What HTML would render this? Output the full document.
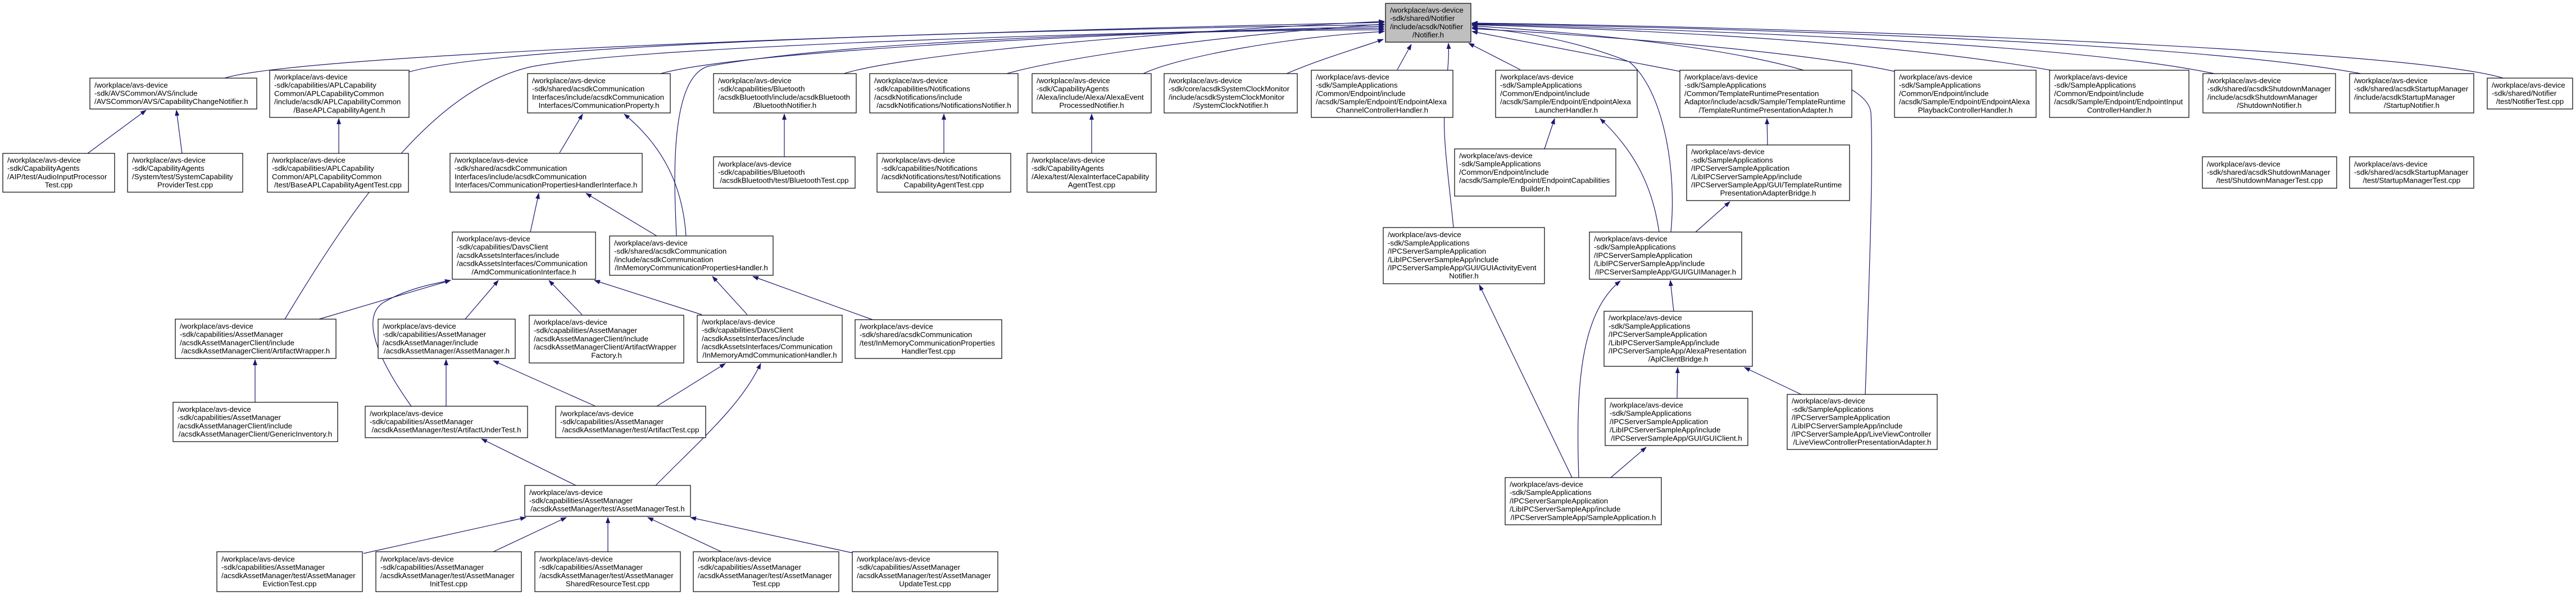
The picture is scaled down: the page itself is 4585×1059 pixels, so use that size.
<!DOCTYPE html>
<html><head><meta charset="utf-8">
<style>
html,body{margin:0;padding:0;background:#fff;}
svg{display:block;}
text{font-family:"Liberation Sans",Arial,sans-serif;font-size:13.3px;fill:#000;}
rect{fill:#fff;stroke:#000;stroke-width:1.2;}
path.e{fill:none;stroke:#191970;stroke-width:1.2;marker-end:url(#a);}
.c{text-anchor:middle;}
</style></head><body>
<svg width="4585" height="1059" viewBox="0 0 4585 1059" xmlns="http://www.w3.org/2000/svg">
<defs><marker id="a" markerWidth="11" markerHeight="8" refX="10" refY="4" orient="auto" markerUnits="userSpaceOnUse"><path d="M0,0 L11,4 L0,8z" fill="#191970"/></marker></defs>

<!-- edges to root -->
<path class="e" d="M400,139 C520,100 1500,60 2464,40"/>
<path class="e" d="M728,128 C900,80 1700,55 2464,44"/>
<path class="e" d="M1176,131 C1300,95 1900,60 2464,47"/>
<path class="e" d="M507,568 C650,330 780,160 940,120 C1100,85 1900,58 2464,50"/>
<path class="e" d="M1204,420 C1200,330 1190,140 1260,118 C1500,75 2000,55 2464,53"/>
<path class="e" d="M1502,131 C1600,100 2000,60 2464,38"/>
<path class="e" d="M1792,131 C1900,100 2200,60 2464,43"/>
<path class="e" d="M2035,131 C2100,100 2300,65 2464,56"/>
<path class="e" d="M2290,131 C2350,105 2420,85 2462,70"/>
<path class="e" d="M2487,124 L2512,79"/>
<path class="e" d="M2706,124 L2614,77"/>
<path class="e" d="M2587,405 C2580,330 2568,250 2571,200 C2574,140 2580,110 2578,77"/>
<path class="e" d="M2974,413 C2985,300 2960,160 2900,110 C2800,70 2700,55 2620,49"/>
<path class="e" d="M2990,127 L2620,56"/>
<path class="e" d="M3372,127 C3200,90 2800,60 2620,51"/>
<path class="e" d="M3320,702 C3325,550 3335,300 3330,200 C3320,120 3000,70 2620,46"/>
<path class="e" d="M3650,125 C3400,80 3000,55 2620,44"/>
<path class="e" d="M3941,131 C3700,80 3100,55 2620,43"/>
<path class="e" d="M4202,131 C3900,75 3100,50 2620,42"/>
<path class="e" d="M4455,139 C4300,90 3300,50 2620,41"/>

<!-- other edges -->
<path class="e" d="M156,273 L260,196"/>
<path class="e" d="M324,273 L314,196"/>
<path class="e" d="M603,273 L603,211"/>
<path class="e" d="M996,272 L1037,203"/>
<path class="e" d="M1221,420 C1215,330 1180,260 1111,203"/>
<path class="e" d="M1396,279 L1396,203"/>
<path class="e" d="M1680,273 L1680,203"/>
<path class="e" d="M1943,273 L1943,203"/>
<path class="e" d="M2749,265 L2767,211"/>
<path class="e" d="M2953,413 C2940,320 2900,260 2848,211"/>
<path class="e" d="M3146,258 L3145,211"/>
<path class="e" d="M3018,413 L3079,359"/>
<path class="e" d="M944,413 L959,344"/>
<path class="e" d="M1169,420 L1043,344"/>
<path class="e" d="M568,568 L802,499"/>
<path class="e" d="M732,723 C680,650 640,570 680,540 C720,515 770,505 802,499"/>
<path class="e" d="M828,568 L887,499"/>
<path class="e" d="M1036,560 L977,499"/>
<path class="e" d="M1249,560 L1058,499"/>
<path class="e" d="M1330,560 L1268,492"/>
<path class="e" d="M1553,569 L1340,492"/>
<path class="e" d="M454,716 L454,640"/>
<path class="e" d="M794,723 L794,640"/>
<path class="e" d="M1060,723 L878,642"/>
<path class="e" d="M1169,723 L1291,647"/>
<path class="e" d="M1025,864 L857,781"/>
<path class="e" d="M1167,864 C1250,780 1320,720 1354,647"/>
<path class="e" d="M647,985 L936,921"/>
<path class="e" d="M878,982 L1008,921"/>
<path class="e" d="M1082,982 L1082,921"/>
<path class="e" d="M1284,982 L1153,921"/>
<path class="e" d="M1517,984 L1229,921"/>
<path class="e" d="M2798,850 L2633,507"/>
<path class="e" d="M2810,850 C2805,700 2810,560 2884,500"/>
<path class="e" d="M2867,850 L2930,796"/>
<path class="e" d="M2979,554 L2973,499"/>
<path class="e" d="M2985,708 L2986,654"/>
<path class="e" d="M3206,702 L3105,654"/>

<!-- nodes -->
<rect x="2466" y="6" width="152" height="69" style="fill:#bfbfbf"/>
<text><tspan x="2474" y="22.4">/workplace/avs-device</tspan><tspan x="2474" y="37.1">-sdk/shared/Notifier</tspan><tspan x="2474" y="51.8">/include/acsdk/Notifier</tspan><tspan class="c" x="2542" y="66.5">/Notifier.h</tspan></text>

<rect x="160" y="139" width="297" height="55"/>
<text><tspan x="168" y="155.8">/workplace/avs-device</tspan><tspan x="168" y="170.5">-sdk/AVSCommon/AVS/include</tspan><tspan x="168" y="185.2">/AVSCommon/AVS/CapabilityChangeNotifier.h</tspan></text>

<rect x="480" y="125" width="248" height="84"/>
<text><tspan x="488" y="141.5">/workplace/avs-device</tspan><tspan x="488" y="156.2">-sdk/capabilities/APLCapability</tspan><tspan x="488" y="170.9">Common/APLCapabilityCommon</tspan><tspan x="488" y="185.6">/include/acsdk/APLCapabilityCommon</tspan><tspan class="c" x="604" y="200.3">/BaseAPLCapabilityAgent.h</tspan></text>

<rect x="939" y="131" width="254" height="70"/>
<text><tspan x="947" y="147.9">/workplace/avs-device</tspan><tspan x="947" y="162.6">-sdk/shared/acsdkCommunication</tspan><tspan x="947" y="177.3">Interfaces/include/acsdkCommunication</tspan><tspan class="c" x="1066" y="192">Interfaces/CommunicationProperty.h</tspan></text>

<rect x="1270" y="131" width="254" height="70"/>
<text><tspan x="1278" y="147.9">/workplace/avs-device</tspan><tspan x="1278" y="162.6">-sdk/capabilities/Bluetooth</tspan><tspan x="1278" y="177.3">/acsdkBluetooth/include/acsdkBluetooth</tspan><tspan class="c" x="1397" y="192">/BluetoothNotifier.h</tspan></text>

<rect x="1548" y="131" width="264" height="70"/>
<text><tspan x="1556" y="147.9">/workplace/avs-device</tspan><tspan x="1556" y="162.6">-sdk/capabilities/Notifications</tspan><tspan x="1556" y="177.3">/acsdkNotifications/include</tspan><tspan class="c" x="1680" y="192">/acsdkNotifications/NotificationsNotifier.h</tspan></text>

<rect x="1837" y="131" width="212" height="70"/>
<text><tspan x="1845" y="147.9">/workplace/avs-device</tspan><tspan x="1845" y="162.6">-sdk/CapabilityAgents</tspan><tspan x="1845" y="177.3">/Alexa/include/Alexa/AlexaEvent</tspan><tspan class="c" x="1943" y="192">ProcessedNotifier.h</tspan></text>

<rect x="2072" y="131" width="237" height="70"/>
<text><tspan x="2080" y="147.9">/workplace/avs-device</tspan><tspan x="2080" y="162.6">-sdk/core/acsdkSystemClockMonitor</tspan><tspan x="2080" y="177.3">/include/acsdkSystemClockMonitor</tspan><tspan class="c" x="2190.5" y="192">/SystemClockNotifier.h</tspan></text>

<rect x="2334" y="125" width="252" height="84"/>
<text><tspan x="2342" y="141.5">/workplace/avs-device</tspan><tspan x="2342" y="156.2">-sdk/SampleApplications</tspan><tspan x="2342" y="170.9">/Common/Endpoint/include</tspan><tspan x="2342" y="185.6">/acsdk/Sample/Endpoint/EndpointAlexa</tspan><tspan class="c" x="2460" y="200.3">ChannelControllerHandler.h</tspan></text>

<rect x="2662" y="125" width="252" height="84"/>
<text><tspan x="2670" y="141.5">/workplace/avs-device</tspan><tspan x="2670" y="156.2">-sdk/SampleApplications</tspan><tspan x="2670" y="170.9">/Common/Endpoint/include</tspan><tspan x="2670" y="185.6">/acsdk/Sample/Endpoint/EndpointAlexa</tspan><tspan class="c" x="2788" y="200.3">LauncherHandler.h</tspan></text>

<rect x="2990" y="125" width="306" height="84"/>
<text><tspan x="2998" y="141.5">/workplace/avs-device</tspan><tspan x="2998" y="156.2">-sdk/SampleApplications</tspan><tspan x="2998" y="170.9">/Common/TemplateRuntimePresentation</tspan><tspan x="2998" y="185.6">Adaptor/include/acsdk/Sample/TemplateRuntime</tspan><tspan class="c" x="3143" y="200.3">/TemplateRuntimePresentationAdapter.h</tspan></text>

<rect x="3372" y="125" width="252" height="84"/>
<text><tspan x="3380" y="141.5">/workplace/avs-device</tspan><tspan x="3380" y="156.2">-sdk/SampleApplications</tspan><tspan x="3380" y="170.9">/Common/Endpoint/include</tspan><tspan x="3380" y="185.6">/acsdk/Sample/Endpoint/EndpointAlexa</tspan><tspan class="c" x="3498" y="200.3">PlaybackControllerHandler.h</tspan></text>

<rect x="3648" y="125" width="248" height="84"/>
<text><tspan x="3656" y="141.5">/workplace/avs-device</tspan><tspan x="3656" y="156.2">-sdk/SampleApplications</tspan><tspan x="3656" y="170.9">/Common/Endpoint/include</tspan><tspan x="3656" y="185.6">/acsdk/Sample/Endpoint/EndpointInput</tspan><tspan class="c" x="3772" y="200.3">ControllerHandler.h</tspan></text>

<rect x="3921" y="131" width="236" height="70"/>
<text><tspan x="3929" y="147.9">/workplace/avs-device</tspan><tspan x="3929" y="162.6">-sdk/shared/acsdkShutdownManager</tspan><tspan x="3929" y="177.3">/include/acsdkShutdownManager</tspan><tspan class="c" x="4039" y="192">/ShutdownNotifier.h</tspan></text>

<rect x="4182" y="131" width="221" height="70"/>
<text><tspan x="4190" y="147.9">/workplace/avs-device</tspan><tspan x="4190" y="162.6">-sdk/shared/acsdkStartupManager</tspan><tspan x="4190" y="177.3">/include/acsdkStartupManager</tspan><tspan class="c" x="4292.5" y="192">/StartupNotifier.h</tspan></text>

<rect x="4427" y="139" width="152" height="55"/>
<text><tspan x="4435" y="155.8">/workplace/avs-device</tspan><tspan x="4435" y="170.5">-sdk/shared/Notifier</tspan><tspan class="c" x="4503" y="185.2">/test/NotifierTest.cpp</tspan></text>

<!-- row B -->
<rect x="5" y="273" width="199" height="69"/>
<text><tspan x="13" y="289.4">/workplace/avs-device</tspan><tspan x="13" y="304.1">-sdk/CapabilityAgents</tspan><tspan x="13" y="318.8">/AIP/test/AudioInputProcessor</tspan><tspan class="c" x="104.5" y="333.5">Test.cpp</tspan></text>

<rect x="227" y="273" width="205" height="69"/>
<text><tspan x="235" y="289.4">/workplace/avs-device</tspan><tspan x="235" y="304.1">-sdk/CapabilityAgents</tspan><tspan x="235" y="318.8">/System/test/SystemCapability</tspan><tspan class="c" x="329.5" y="333.5">ProviderTest.cpp</tspan></text>

<rect x="476" y="273" width="251" height="69"/>
<text><tspan x="484" y="289.4">/workplace/avs-device</tspan><tspan x="484" y="304.1">-sdk/capabilities/APLCapability</tspan><tspan x="484" y="318.8">Common/APLCapabilityCommon</tspan><tspan class="c" x="601.5" y="333.5">/test/BaseAPLCapabilityAgentTest.cpp</tspan></text>

<rect x="801" y="273" width="342" height="69"/>
<text><tspan x="809" y="289.4">/workplace/avs-device</tspan><tspan x="809" y="304.1">-sdk/shared/acsdkCommunication</tspan><tspan x="809" y="318.8">Interfaces/include/acsdkCommunication</tspan><tspan class="c" x="972" y="333.5">Interfaces/CommunicationPropertiesHandlerInterface.h</tspan></text>

<rect x="1270" y="279" width="252" height="56"/>
<text><tspan x="1278" y="296.3">/workplace/avs-device</tspan><tspan x="1278" y="311">-sdk/capabilities/Bluetooth</tspan><tspan class="c" x="1396" y="325.7">/acsdkBluetooth/test/BluetoothTest.cpp</tspan></text>

<rect x="1561" y="273" width="238" height="69"/>
<text><tspan x="1569" y="289.4">/workplace/avs-device</tspan><tspan x="1569" y="304.1">-sdk/capabilities/Notifications</tspan><tspan x="1569" y="318.8">/acsdkNotifications/test/Notifications</tspan><tspan class="c" x="1680" y="333.5">CapabilityAgentTest.cpp</tspan></text>

<rect x="1828" y="273" width="230" height="69"/>
<text><tspan x="1836" y="289.4">/workplace/avs-device</tspan><tspan x="1836" y="304.1">-sdk/CapabilityAgents</tspan><tspan x="1836" y="318.8">/Alexa/test/AlexaInterfaceCapability</tspan><tspan class="c" x="1943" y="333.5">AgentTest.cpp</tspan></text>

<rect x="2589" y="265" width="287" height="84"/>
<text><tspan x="2597" y="281.5">/workplace/avs-device</tspan><tspan x="2597" y="296.2">-sdk/SampleApplications</tspan><tspan x="2597" y="310.9">/Common/Endpoint/include</tspan><tspan x="2597" y="325.6">/acsdk/Sample/Endpoint/EndpointCapabilities</tspan><tspan class="c" x="2732.5" y="340.3">Builder.h</tspan></text>

<rect x="3002" y="258" width="290" height="99"/>
<text><tspan x="3010" y="274.7">/workplace/avs-device</tspan><tspan x="3010" y="289.4">-sdk/SampleApplications</tspan><tspan x="3010" y="304.1">/IPCServerSampleApplication</tspan><tspan x="3010" y="318.8">/LibIPCServerSampleApp/include</tspan><tspan x="3010" y="333.5">/IPCServerSampleApp/GUI/TemplateRuntime</tspan><tspan class="c" x="3147" y="348.2">PresentationAdapterBridge.h</tspan></text>

<rect x="3920" y="279" width="239" height="56"/>
<text><tspan x="3928" y="296.3">/workplace/avs-device</tspan><tspan x="3928" y="311">-sdk/shared/acsdkShutdownManager</tspan><tspan class="c" x="4039.5" y="325.7">/test/ShutdownManagerTest.cpp</tspan></text>

<rect x="4182" y="279" width="221" height="56"/>
<text><tspan x="4190" y="296.3">/workplace/avs-device</tspan><tspan x="4190" y="311">-sdk/shared/acsdkStartupManager</tspan><tspan class="c" x="4292.5" y="325.7">/test/StartupManagerTest.cpp</tspan></text>

<!-- row C -->
<rect x="805" y="413" width="255" height="84"/>
<text><tspan x="813" y="429.5">/workplace/avs-device</tspan><tspan x="813" y="444.2">-sdk/capabilities/DavsClient</tspan><tspan x="813" y="458.9">/acsdkAssetsInterfaces/include</tspan><tspan x="813" y="473.6">/acsdkAssetsInterfaces/Communication</tspan><tspan class="c" x="932.5" y="488.3">/AmdCommunicationInterface.h</tspan></text>

<rect x="1085" y="420" width="291" height="70"/>
<text><tspan x="1093" y="436.9">/workplace/avs-device</tspan><tspan x="1093" y="451.6">-sdk/shared/acsdkCommunication</tspan><tspan x="1093" y="466.3">/include/acsdkCommunication</tspan><tspan class="c" x="1230.5" y="481">/InMemoryCommunicationPropertiesHandler.h</tspan></text>

<rect x="2462" y="405" width="287" height="100"/>
<text><tspan x="2470" y="422.2">/workplace/avs-device</tspan><tspan x="2470" y="436.9">-sdk/SampleApplications</tspan><tspan x="2470" y="451.6">/IPCServerSampleApplication</tspan><tspan x="2470" y="466.3">/LibIPCServerSampleApp/include</tspan><tspan x="2470" y="481">/IPCServerSampleApp/GUI/GUIActivityEvent</tspan><tspan class="c" x="2605.5" y="495.7">Notifier.h</tspan></text>

<rect x="2829" y="413" width="271" height="84"/>
<text><tspan x="2837" y="429.5">/workplace/avs-device</tspan><tspan x="2837" y="444.2">-sdk/SampleApplications</tspan><tspan x="2837" y="458.9">/IPCServerSampleApplication</tspan><tspan x="2837" y="473.6">/LibIPCServerSampleApp/include</tspan><tspan class="c" x="2964.5" y="488.3">/IPCServerSampleApp/GUI/GUIManager.h</tspan></text>

<!-- row D -->
<rect x="312" y="568" width="286" height="70"/>
<text><tspan x="320" y="584.9">/workplace/avs-device</tspan><tspan x="320" y="599.6">-sdk/capabilities/AssetManager</tspan><tspan x="320" y="614.3">/acsdkAssetManagerClient/include</tspan><tspan class="c" x="455" y="629">/acsdkAssetManagerClient/ArtifactWrapper.h</tspan></text>

<rect x="673" y="568" width="244" height="70"/>
<text><tspan x="681" y="584.9">/workplace/avs-device</tspan><tspan x="681" y="599.6">-sdk/capabilities/AssetManager</tspan><tspan x="681" y="614.3">/acsdkAssetManager/include</tspan><tspan class="c" x="795" y="629">/acsdkAssetManager/AssetManager.h</tspan></text>

<rect x="942" y="561" width="275" height="85"/>
<text><tspan x="950" y="578">/workplace/avs-device</tspan><tspan x="950" y="592.7">-sdk/capabilities/AssetManager</tspan><tspan x="950" y="607.4">/acsdkAssetManagerClient/include</tspan><tspan x="950" y="622.1">/acsdkAssetManagerClient/ArtifactWrapper</tspan><tspan class="c" x="1079.5" y="636.8">Factory.h</tspan></text>

<rect x="1241" y="561" width="258" height="84"/>
<text><tspan x="1249" y="577.5">/workplace/avs-device</tspan><tspan x="1249" y="592.2">-sdk/capabilities/DavsClient</tspan><tspan x="1249" y="606.9">/acsdkAssetsInterfaces/include</tspan><tspan x="1249" y="621.6">/acsdkAssetsInterfaces/Communication</tspan><tspan class="c" x="1370" y="636.3">/InMemoryAmdCommunicationHandler.h</tspan></text>

<rect x="1522" y="569" width="261" height="69"/>
<text><tspan x="1530" y="585.4">/workplace/avs-device</tspan><tspan x="1530" y="600.1">-sdk/shared/acsdkCommunication</tspan><tspan x="1530" y="614.8">/test/InMemoryCommunicationProperties</tspan><tspan class="c" x="1652.5" y="629.5">HandlerTest.cpp</tspan></text>

<rect x="2855" y="554" width="264" height="98"/>
<text><tspan x="2863" y="570.2">/workplace/avs-device</tspan><tspan x="2863" y="584.9">-sdk/SampleApplications</tspan><tspan x="2863" y="599.6">/IPCServerSampleApplication</tspan><tspan x="2863" y="614.3">/LibIPCServerSampleApp/include</tspan><tspan x="2863" y="629">/IPCServerSampleApp/AlexaPresentation</tspan><tspan class="c" x="2987" y="643.7">/AplClientBridge.h</tspan></text>

<rect x="3181" y="702" width="267" height="98"/>
<text><tspan x="3189" y="718.2">/workplace/avs-device</tspan><tspan x="3189" y="732.9">-sdk/SampleApplications</tspan><tspan x="3189" y="747.6">/IPCServerSampleApplication</tspan><tspan x="3189" y="762.3">/LibIPCServerSampleApp/include</tspan><tspan x="3189" y="777">/IPCServerSampleApp/LiveViewController</tspan><tspan class="c" x="3314.5" y="791.7">/LiveViewControllerPresentationAdapter.h</tspan></text>

<!-- row E -->
<rect x="308" y="716" width="293" height="70"/>
<text><tspan x="316" y="732.9">/workplace/avs-device</tspan><tspan x="316" y="747.6">-sdk/capabilities/AssetManager</tspan><tspan x="316" y="762.3">/acsdkAssetManagerClient/include</tspan><tspan class="c" x="454.5" y="777">/acsdkAssetManagerClient/GenericInventory.h</tspan></text>

<rect x="650" y="723" width="289" height="56"/>
<text><tspan x="658" y="740.3">/workplace/avs-device</tspan><tspan x="658" y="755">-sdk/capabilities/AssetManager</tspan><tspan class="c" x="794.5" y="769.7">/acsdkAssetManager/test/ArtifactUnderTest.h</tspan></text>

<rect x="989" y="723" width="267" height="56"/>
<text><tspan x="997" y="740.3">/workplace/avs-device</tspan><tspan x="997" y="755">-sdk/capabilities/AssetManager</tspan><tspan class="c" x="1122.5" y="769.7">/acsdkAssetManager/test/ArtifactTest.cpp</tspan></text>

<rect x="2857" y="709" width="254" height="84"/>
<text><tspan x="2865" y="725.5">/workplace/avs-device</tspan><tspan x="2865" y="740.2">-sdk/SampleApplications</tspan><tspan x="2865" y="754.9">/IPCServerSampleApplication</tspan><tspan x="2865" y="769.6">/LibIPCServerSampleApp/include</tspan><tspan class="c" x="2984" y="784.3">/IPCServerSampleApp/GUI/GUIClient.h</tspan></text>

<rect x="934" y="864" width="295" height="55"/>
<text><tspan x="942" y="880.8">/workplace/avs-device</tspan><tspan x="942" y="895.5">-sdk/capabilities/AssetManager</tspan><tspan class="c" x="1081.5" y="910.2">/acsdkAssetManager/test/AssetManagerTest.h</tspan></text>

<rect x="2679" y="850" width="278" height="84"/>
<text><tspan x="2687" y="866.5">/workplace/avs-device</tspan><tspan x="2687" y="881.2">-sdk/SampleApplications</tspan><tspan x="2687" y="895.9">/IPCServerSampleApplication</tspan><tspan x="2687" y="910.6">/LibIPCServerSampleApp/include</tspan><tspan class="c" x="2818" y="925.3">/IPCServerSampleApp/SampleApplication.h</tspan></text>

<!-- row G -->
<rect x="386" y="982" width="259" height="71"/>
<text><tspan x="394" y="999.4">/workplace/avs-device</tspan><tspan x="394" y="1014.1">-sdk/capabilities/AssetManager</tspan><tspan x="394" y="1028.8">/acsdkAssetManager/test/AssetManager</tspan><tspan class="c" x="515.5" y="1043.5">EvictionTest.cpp</tspan></text>

<rect x="669" y="982" width="259" height="71"/>
<text><tspan x="677" y="999.4">/workplace/avs-device</tspan><tspan x="677" y="1014.1">-sdk/capabilities/AssetManager</tspan><tspan x="677" y="1028.8">/acsdkAssetManager/test/AssetManager</tspan><tspan class="c" x="798.5" y="1043.5">InitTest.cpp</tspan></text>

<rect x="952" y="982" width="259" height="71"/>
<text><tspan x="960" y="999.4">/workplace/avs-device</tspan><tspan x="960" y="1014.1">-sdk/capabilities/AssetManager</tspan><tspan x="960" y="1028.8">/acsdkAssetManager/test/AssetManager</tspan><tspan class="c" x="1081.5" y="1043.5">SharedResourceTest.cpp</tspan></text>

<rect x="1234" y="982" width="259" height="71"/>
<text><tspan x="1242" y="999.4">/workplace/avs-device</tspan><tspan x="1242" y="1014.1">-sdk/capabilities/AssetManager</tspan><tspan x="1242" y="1028.8">/acsdkAssetManager/test/AssetManager</tspan><tspan class="c" x="1363.5" y="1043.5">Test.cpp</tspan></text>

<rect x="1517" y="982" width="259" height="71"/>
<text><tspan x="1525" y="999.4">/workplace/avs-device</tspan><tspan x="1525" y="1014.1">-sdk/capabilities/AssetManager</tspan><tspan x="1525" y="1028.8">/acsdkAssetManager/test/AssetManager</tspan><tspan class="c" x="1646.5" y="1043.5">UpdateTest.cpp</tspan></text>
</svg>
</body></html>
